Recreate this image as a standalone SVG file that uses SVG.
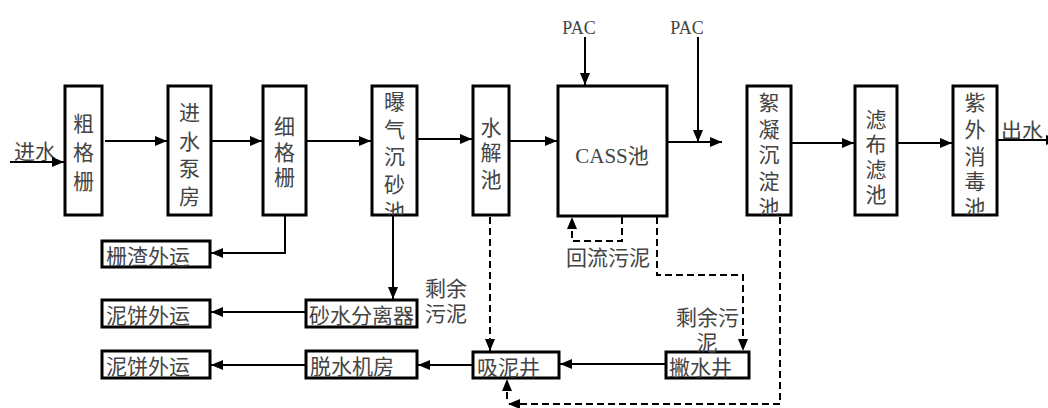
<svg xmlns="http://www.w3.org/2000/svg" width="1048" height="408" viewBox="0 0 1048 408">
<style>
.box{fill:#fff;stroke:#000;stroke-width:3}
.t{font-family:"Noto Sans CJK SC",sans-serif;font-size:21px;fill:#444}
.pac{font-family:"Liberation Serif",serif;font-size:18px;fill:#444}
.ser{font-family:"Liberation Serif",serif}
.ln{fill:none;stroke:#000;stroke-width:2}
.dl{fill:none;stroke:#000;stroke-width:2;stroke-dasharray:7,4}
</style>
<defs>
<marker id="ah" viewBox="0 0 12 10" refX="12" refY="5" markerWidth="12" markerHeight="10" markerUnits="userSpaceOnUse" orient="auto">
<path d="M0,0 L12,5 L0,10 z" fill="#000"/>
</marker>
<clipPath id="c4"><rect x="372" y="86" width="45" height="129"/></clipPath>
<clipPath id="c7"><rect x="747" y="86" width="44" height="129"/></clipPath>
<clipPath id="c9"><rect x="953" y="86" width="44" height="129"/></clipPath>
</defs>
<g id="n1"><rect class="box" x="65" y="86" width="37" height="129"/><text class="t" text-anchor="middle"><tspan x="83.5" y="131">粗</tspan><tspan x="83.5" y="160">格</tspan><tspan x="83.5" y="189">栅</tspan></text></g>
<g id="n2"><rect class="box" x="168" y="86" width="43" height="129"/><text class="t" text-anchor="middle"><tspan x="189.5" y="120">进</tspan><tspan x="189.5" y="149">水</tspan><tspan x="189.5" y="176">泵</tspan><tspan x="189.5" y="204">房</tspan></text></g>
<g id="n3"><rect class="box" x="263" y="86" width="43" height="129"/><text class="t" text-anchor="middle"><tspan x="284.5" y="134">细</tspan><tspan x="284.5" y="160">格</tspan><tspan x="284.5" y="185">栅</tspan></text></g>
<g id="n4"><rect class="box" x="372" y="86" width="45" height="129"/><text class="t" text-anchor="middle" clip-path="url(#c4)"><tspan x="394.5" y="109">曝</tspan><tspan x="394.5" y="137">气</tspan><tspan x="394.5" y="164">沉</tspan><tspan x="394.5" y="192">砂</tspan><tspan x="394.5" y="219">池</tspan></text></g>
<g id="n5"><rect class="box" x="473" y="86" width="36" height="129"/><text class="t" text-anchor="middle"><tspan x="491" y="135">水</tspan><tspan x="491" y="160">解</tspan><tspan x="491" y="187">池</tspan></text></g>
<g id="n6"><rect class="box" x="558" y="86" width="109" height="130"/><text class="t" x="612" y="163" text-anchor="middle"><tspan class="ser">CASS</tspan>池</text></g>
<g id="n7"><rect class="box" x="747" y="86" width="44" height="129"/><text class="t" text-anchor="middle" clip-path="url(#c7)"><tspan x="769" y="110">絮</tspan><tspan x="769" y="137">凝</tspan><tspan x="769" y="162">沉</tspan><tspan x="769" y="189">淀</tspan><tspan x="769" y="215">池</tspan></text></g>
<g id="n8"><rect class="box" x="855" y="86" width="42" height="129"/><text class="t" text-anchor="middle"><tspan x="876" y="127">滤</tspan><tspan x="876" y="152">布</tspan><tspan x="876" y="177">滤</tspan><tspan x="876" y="202">池</tspan></text></g>
<g id="n9"><rect class="box" x="953" y="86" width="44" height="129"/><text class="t" text-anchor="middle" clip-path="url(#c9)"><tspan x="975" y="110">紫</tspan><tspan x="975" y="137">外</tspan><tspan x="975" y="164">消</tspan><tspan x="975" y="189">毒</tspan><tspan x="975" y="215">池</tspan></text></g>
<g id="n10"><rect class="box" x="102" y="241" width="108" height="26"/><text class="t" x="106" y="264">栅渣外运</text></g>
<g id="n11"><rect class="box" x="102" y="300" width="108" height="27"/><text class="t" x="106" y="323">泥饼外运</text></g>
<g id="n12"><rect class="box" x="102" y="351" width="108" height="27"/><text class="t" x="106" y="374">泥饼外运</text></g>
<g id="n13"><rect class="box" x="306" y="300" width="111" height="27"/><text class="t" x="309" y="323">砂水分离器</text></g>
<g id="n14"><rect class="box" x="306" y="351" width="111" height="27"/><text class="t" x="310" y="374">脱水机房</text></g>
<g id="n15"><rect class="box" x="473" y="352" width="86" height="26"/><text class="t" x="477" y="375">吸泥井</text></g>
<g id="n16"><rect class="box" x="666" y="352" width="83" height="26"/><text class="t" x="669" y="375">撇水井</text></g>
<g id="labels">
<text class="t" x="14" y="159" font-size="20">进水</text>
<text class="t" x="1001" y="138" font-size="20">出水</text>
<text class="pac" x="579" y="34" text-anchor="middle">PAC</text>
<text class="pac" x="687" y="34" text-anchor="middle">PAC</text>
<text class="t" x="425" y="296">剩余</text>
<text class="t" x="425" y="321">污泥</text>
<text class="t" x="566" y="265">回流污泥</text>
<text class="t" x="676" y="325">剩余污</text>
<text class="t" x="707" y="350" text-anchor="middle">泥</text>
</g>
<g id="connectors">
<line class="ln" x1="10" y1="162" x2="64" y2="162" marker-end="url(#ah)"/>
<line class="ln" x1="105" y1="141" x2="167" y2="141" marker-end="url(#ah)"/>
<line class="ln" x1="212" y1="141" x2="262" y2="141" marker-end="url(#ah)"/>
<line class="ln" x1="307" y1="141" x2="371" y2="141" marker-end="url(#ah)"/>
<line class="ln" x1="418" y1="139" x2="472" y2="139" marker-end="url(#ah)"/>
<line class="ln" x1="510" y1="141" x2="557" y2="141" marker-end="url(#ah)"/>
<line class="ln" x1="668" y1="142" x2="722" y2="142" marker-end="url(#ah)"/>
<line class="ln" x1="585" y1="37" x2="585" y2="85" marker-end="url(#ah)"/>
<line class="ln" x1="698" y1="37" x2="698" y2="142" marker-end="url(#ah)"/>
<line class="ln" x1="792" y1="143" x2="854" y2="143" marker-end="url(#ah)"/>
<line class="ln" x1="898" y1="143" x2="952" y2="143" marker-end="url(#ah)"/>
<line class="ln" x1="998" y1="140" x2="1058" y2="140" marker-end="url(#ah)"/>
<polyline class="ln" points="285,216 285,253 211,253" marker-end="url(#ah)"/>
<line class="ln" x1="393" y1="216" x2="393" y2="299" marker-end="url(#ah)"/>
<line class="ln" x1="305" y1="312" x2="211" y2="312" marker-end="url(#ah)"/>
<line class="ln" x1="305" y1="365" x2="211" y2="365" marker-end="url(#ah)"/>
<line class="ln" x1="472" y1="365" x2="418" y2="365" marker-end="url(#ah)"/>
<line class="ln" x1="665" y1="364" x2="560" y2="364" marker-end="url(#ah)"/>
<line class="dl" x1="490" y1="217" x2="490" y2="351" marker-end="url(#ah)"/>
<polyline class="dl" points="622,217 622,241 572,241 572,217" marker-end="url(#ah)"/>
<polyline class="dl" points="657,217 657,275 743,275 743,351" marker-end="url(#ah)"/>
<polyline class="dl" points="780,217 780,404 508,404" marker-end="url(#ah)"/>
<line class="dl" x1="507" y1="399" x2="507" y2="379" marker-end="url(#ah)"/>
</g>
</svg>
